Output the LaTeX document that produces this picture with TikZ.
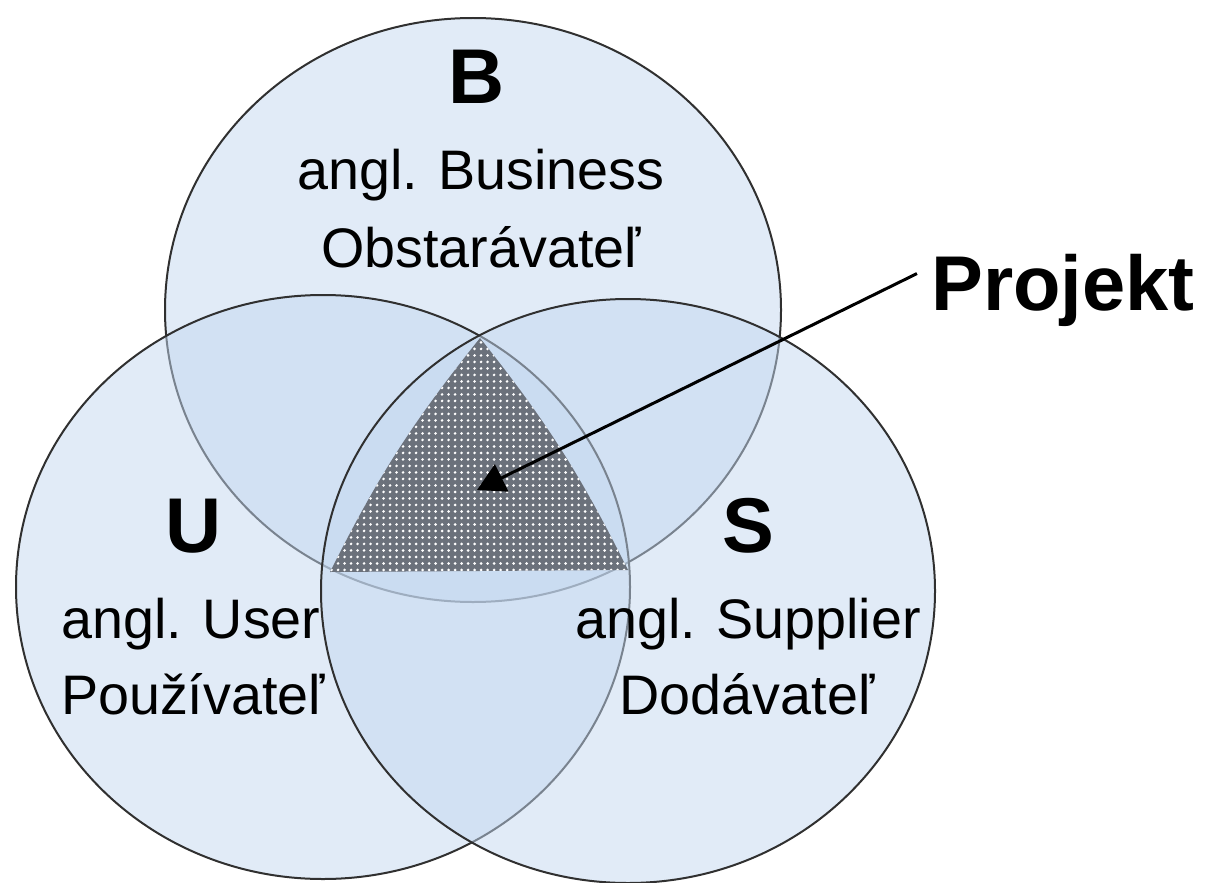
\documentclass[tikz,border=0pt]{standalone}
\usepackage{fontspec}
\setmainfont{Liberation Sans}
\usetikzlibrary{arrows.meta}
\usetikzlibrary{patterns.meta}

\definecolor{setblue}{HTML}{C3D7EF}
\definecolor{setline}{HTML}{303030}
\definecolor{dotgray}{HTML}{6B717B}

\tikzset{
    set/.style={fill=setblue, fill opacity=0.5, draw=setline, line width=0.04cm},
    letter/.style={font=\bfseries\fontsize{44.2pt}{50pt}\selectfont},
    role/.style={font=\fontsize{31.7pt}{36pt}\selectfont}
}

\begin{document}
\begin{tikzpicture}[anchor=base, x=0.02cm, y=-0.02cm]
    \useasboundingbox (0,0) rectangle (1213,882);
    % the three sets, B first, then U, then S
    \draw[set] (473,310) ellipse [x radius=308, y radius=292];
    \draw[set] (323,587) ellipse [x radius=307, y radius=292];
    \draw[set] (628,591) ellipse [x radius=307, y radius=292];
    % common part
    \fill[pattern={Dots[radius=0.85pt, distance=3.7pt]}, pattern color=white, preaction={fill=dotgray}]
        (480,338) to[bend right=6] (330,572) -- (628,570) to[bend right=6] (480,338) -- cycle;
    % labels
    \node[letter] (b) at (477,104) {B};
    \node[role] (b-en) at (481,189) {angl. Business};
    \node[role] (b-sk) at (481,267) {Obstarávateľ};
    \node[letter] (u) at (194,552) {U};
    \node[role] (u-en) at (191,638) {angl. User};
    \node[role] (u-sk) at (193,714) {Používateľ};
    \node[letter] (s) at (748,552) {S};
    \node[role] (s-en) at (748,638) {angl. Supplier};
    \node[role] (s-sk) at (747,714) {Dodávateľ};
    \node[letter, anchor=base west, inner xsep=0.28cm, inner ysep=0pt, text height=41.5pt, text depth=0pt] (projekt) at (917,310) {Projekt};
    \coordinate (tip) at (477,490);
    \draw[-{Triangle[length=0.55cm, width=0.6cm]}, line width=0.06cm] (projekt.west) -- (tip);
\end{tikzpicture}
\end{document}
